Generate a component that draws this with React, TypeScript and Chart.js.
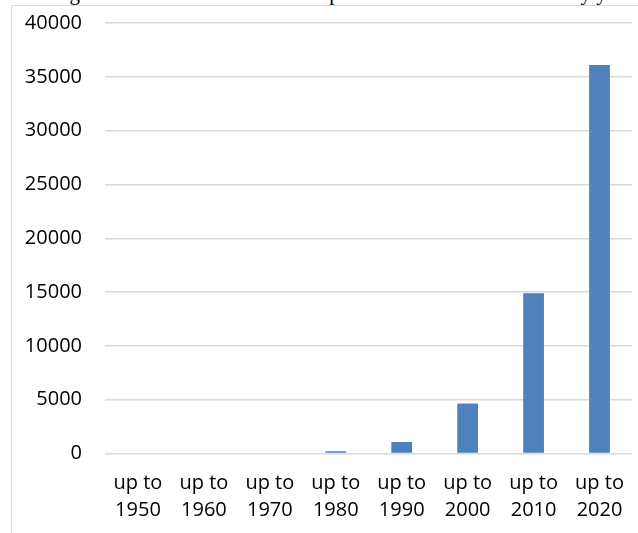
import React, { useEffect, useRef } from "react";
import { Chart, registerables } from "chart.js";

Chart.register(...registerables);

// Cumulative article counts per period
const categories: string[][] = [
  ["up to", "1950"],
  ["up to", "1960"],
  ["up to", "1970"],
  ["up to", "1980"],
  ["up to", "1990"],
  ["up to", "2000"],
  ["up to", "2010"],
  ["up to", "2020"],
];
const articles: number[] = [0, 0, 0, 220, 1070, 4650, 14900, 36100];
const yMin = 0;
const yMax = 40000;
const yStep = 5000;

const titleText = "Figure 1: The number of articles published on bioinformatics by year";

// The canvas is lifted so the plot top sits just under the frame's top edge
const CANVAS_SHIFT = 12;

export default function App() {
  const canvasRef = useRef<HTMLCanvasElement | null>(null);

  useEffect(() => {
    const canvas = canvasRef.current;
    if (!canvas) return;
    const chart = new Chart(canvas, {
      type: "bar",
      data: {
        labels: categories,
        datasets: [
          {
            data: articles,
            backgroundColor: "#4f81bd",
            borderWidth: 0,
            barPercentage: 0.315,
            categoryPercentage: 1,
          },
        ],
      },
      options: {
        responsive: false,
        animation: false,
        devicePixelRatio: 1,
        layout: { padding: { top: 0, left: 0, right: 1, bottom: 0 } },
        plugins: {
          legend: { display: false },
          tooltip: { enabled: false },
          title: { display: false },
        },
        scales: {
          x: {
            grid: { display: false, drawTicks: false },
            border: { display: false },
            ticks: {
              color: "#000",
              font: { family: "'Open Sans'", size: 20, lineHeight: 1.35 },
              padding: 16,
              maxRotation: 0,
              autoSkip: false,
            },
            afterFit: (scale: any) => {
              scale.height = 79.5;
            },
          },
          y: {
            min: yMin,
            max: yMax,
            grid: { color: "#d9d9d9", lineWidth: 1.5, drawTicks: false },
            border: { display: false },
            ticks: {
              stepSize: yStep,
              color: "#000",
              font: { family: "'Open Sans'", size: 20 },
              padding: 23,
              callback: (value: any) => String(value),
            },
            afterFit: (scale: any) => {
              scale.width = 105;
            },
          },
        },
      },
    });
    return () => chart.destroy();
  }, []);

  return (
    <div
      style={{
        position: "fixed",
        left: 0,
        top: 0,
        width: 638,
        height: 533,
        overflow: "hidden",
        background: "#fff",
      }}
    >
      <span
        style={{
          position: "absolute",
          left: 52,
          top: -18,
          fontFamily: "'Liberation Serif'",
          fontSize: 21,
          lineHeight: "22px",
          whiteSpace: "nowrap",
          color: "#000",
        }}
      >
        {titleText}
      </span>
      <div
        style={{
          position: "absolute",
          left: 11,
          top: 5,
          width: 700,
          height: 600,
          border: "1.5px solid #d9d9d9",
          boxSizing: "border-box",
        }}
      />
      <canvas
        ref={canvasRef}
        width={640}
        height={533 + CANVAS_SHIFT}
        style={{ position: "absolute", left: 0, top: -CANVAS_SHIFT }}
      />
    </div>
  );
}
